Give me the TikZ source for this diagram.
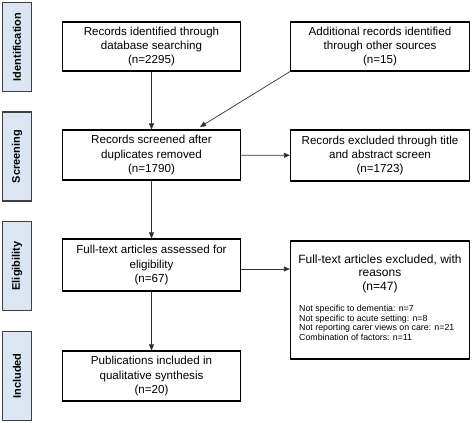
\documentclass[tikz,border=0pt]{standalone}
\usepackage{fontspec}
\setmainfont{Liberation Sans}
\usetikzlibrary{arrows.meta}
\definecolor{sidefill}{HTML}{DCE6F2}
\definecolor{sidedraw}{HTML}{404040}
\definecolor{linecol}{HTML}{303030}
\tikzset{
  sidebox/.style={draw=sidedraw, line width=1.6pt, fill=sidefill, minimum width=29pt, minimum height=89pt, inner sep=0pt},
  sidetext/.style={rotate=90, font=\bfseries\fontsize{11}{13}\selectfont, inner sep=0pt},
  flowbox/.style={draw=black, line width=1.2pt, fill=white, minimum width=178pt, inner sep=0pt, align=center, font=\fontsize{11.6}{14.2}\selectfont},
  conn/.style={draw=linecol, line width=0.7pt, -{Triangle[length=6pt,width=5pt]}},
}
\begin{document}
\begin{tikzpicture}[x=1pt,y=-1pt]
\useasboundingbox (0,0) rectangle (472,423);
% side labels
\node[sidebox] (sI) at (17,47) {};
\node[sidetext] (tI) at (sI.center) {Identification};
\node[sidebox] (sS) at (17,156.5) {};
\node[sidetext] (tS) at (sS.center) {Screening};
\node[sidebox] (sE) at (17,266) {};
\node[sidetext] (tE) at (sE.center) {Eligibility};
\node[sidebox] (sN) at (17,376) {};
\node[sidetext] (tN) at (sN.center) {Included};
% flow boxes
\node[flowbox, minimum height=49pt] (b1) at (151.5,46.5) {Records identified through\\database searching\\(n=2295)};
\node[flowbox, minimum height=49pt, minimum width=179pt] (b2) at (380,46.5) {Additional records identified\\through other sources\\(n=15)};
\node[flowbox, minimum height=50pt] (b3) at (151.5,155) {Records screened after\\duplicates removed\\(n=1790)};
\node[flowbox, minimum height=51pt, minimum width=179pt] (b4) at (380,155.5) {Records excluded through title\\and abstract screen\\(n=1723)};
\node[flowbox, minimum height=52pt] (b5) at (151.5,265) {Full-text articles assessed for\\eligibility\\(n=67)};
\node[flowbox, minimum height=118pt, minimum width=179pt] (b6) at (380,300) {};
\node[align=center, inner sep=0pt, font=\fontsize{12}{13.5}\selectfont] (t6) at (380,273.5) {Full-text articles excluded, with\\reasons\\(n=47)};
\node[align=left, anchor=north west, inner sep=0pt, font=\fontsize{8.8}{9.7}\selectfont] (l6) at (299,305) {Not specific to dementia: n=7\\Not specific to acute setting: n=8\\Not reporting carer views on care: n=21\\Combination of factors: n=11};
\node[flowbox, minimum height=50pt] (b7) at (151.5,376) {Publications included in\\qualitative synthesis\\(n=20)};
% connectors
\coordinate (d3) at (200,127);
\draw[conn] (b1) -- (b3);
\draw[conn] (b2.south west) -- (d3);
\draw[conn] (b3) -- (b4);
\draw[conn] (b3) -- (b5);
\draw[conn] ([yshift=-4pt]b5.east) -- ([yshift=-4pt]b5.east -| b6.west);
\draw[conn] (b5) -- (b7);
\end{tikzpicture}
\end{document}
